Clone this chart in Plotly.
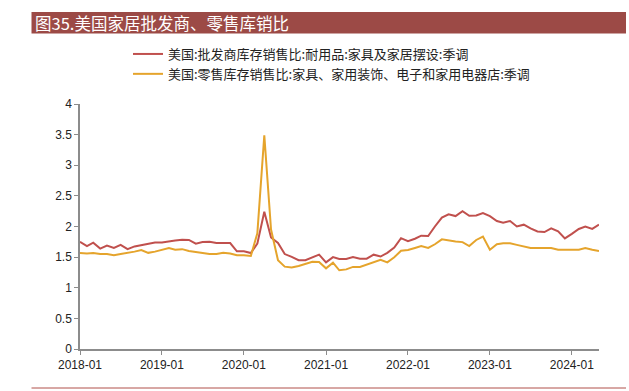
import plotly.graph_objects as go
import pandas as pd

months = pd.date_range("2018-01-01", "2024-05-01", freq="MS").strftime("%Y-%m-%d").tolist()

wholesale = [1.75, 1.68, 1.735, 1.64, 1.69, 1.65, 1.70, 1.63, 1.675, 1.70,
             1.72, 1.74, 1.74, 1.75, 1.77, 1.785, 1.78, 1.72, 1.745, 1.75,
             1.73, 1.73, 1.73, 1.595, 1.595, 1.567, 1.72, 2.24, 1.82, 1.73,
             1.55, 1.505, 1.45, 1.45, 1.50, 1.54, 1.415, 1.50, 1.47, 1.47,
             1.50, 1.475, 1.475, 1.54, 1.51, 1.57, 1.655, 1.81, 1.76, 1.80,
             1.85, 1.845, 2.00, 2.145, 2.20, 2.17, 2.25, 2.175, 2.18, 2.22,
             2.17, 2.09, 2.06, 2.09, 2.00, 2.03, 1.97, 1.92, 1.91, 1.97,
             1.92, 1.805, 1.88, 1.96, 2.00, 1.96, 2.03]

retail = [1.567, 1.56, 1.567, 1.55, 1.55, 1.53, 1.55, 1.567, 1.59, 1.616,
          1.57, 1.59, 1.62, 1.65, 1.62, 1.63, 1.60, 1.585, 1.56, 1.55,
          1.55, 1.57, 1.56, 1.53, 1.53, 1.518, 1.89, 3.49, 1.95, 1.45,
          1.345, 1.33, 1.355, 1.39, 1.425, 1.42, 1.317, 1.41, 1.285, 1.30,
          1.34, 1.34, 1.375, 1.41, 1.458, 1.415, 1.497, 1.605, 1.615, 1.65,
          1.68, 1.65, 1.71, 1.79, 1.77, 1.755, 1.745, 1.68, 1.78, 1.835,
          1.62, 1.71, 1.725, 1.725, 1.70, 1.68, 1.65, 1.65, 1.645, 1.65,
          1.62, 1.615, 1.62, 1.62, 1.65, 1.62, 1.60]

name_wholesale = "美国:批发商库存销售比:耐用品:家具及家居摆设:季调"
name_retail = "美国:零售库存销售比:家具、家用装饰、电子和家用电器店:季调"
title_text = "图35.美国家居批发商、零售库销比"

W, H = 629, 391
L, R, T, B = 80, 30, 104, 42
pw, ph = W - L - R, H - T - B

def px(x):
    return (x - L) / pw

def py(y):
    return (H - B - y) / ph

CJK = "Noto Sans CJK SC"
fig = go.Figure()
fig.add_trace(go.Scatter(x=months, y=wholesale, mode="lines", name=name_wholesale,
                         line=dict(color="#C0504D", width=2)))
fig.add_trace(go.Scatter(x=months, y=retail, mode="lines", name=name_retail,
                         line=dict(color="#E5A42C", width=2)))

fig.update_layout(
    width=W, height=H, autosize=False,
    margin=dict(l=L, r=R, t=T, b=B, autoexpand=False),
    paper_bgcolor="white", plot_bgcolor="white",
    font=dict(family="Liberation Sans, Arial", size=12, color="#222"),
    showlegend=True,
    legend=dict(x=px(128), y=py(39), xanchor="left", yanchor="top",
                font=dict(family=CJK, size=13, color="#222"),
                bgcolor="rgba(0,0,0,0)", tracegroupgap=0, itemwidth=30),
    xaxis=dict(type="date", range=["2018-01-01", "2024-05-01"],
               dtick="M12", tick0="2018-01-01", tickformat="%Y-%m",
               showgrid=False, zeroline=False,
               showline=True, linecolor="#8c8c8c", linewidth=1.5,
               ticks="outside", ticklen=4, tickcolor="#8c8c8c",
               tickfont=dict(size=12, color="#222")),
    yaxis=dict(range=[0, 4], dtick=0.5, tick0=0,
               showgrid=False, zeroline=False,
               showline=True, linecolor="#8c8c8c", linewidth=1.5,
               ticks="outside", ticklen=4, tickcolor="#8c8c8c",
               tickfont=dict(size=12, color="#222")),
    shapes=[
        dict(type="rect", xref="paper", yref="paper",
             x0=px(31.5), x1=px(626), y0=py(33.5), y1=py(12),
             fillcolor="#9C4A46", line=dict(width=0), layer="below"),
        dict(type="line", xref="paper", yref="paper",
             x0=px(31.5), x1=px(626), y0=py(388), y1=py(388),
             line=dict(color="#B0504A", width=1)),
    ],
    annotations=[
        dict(text=title_text, xref="paper", yref="paper", x=px(33), y=py(23),
             xanchor="left", yanchor="middle", showarrow=False,
             font=dict(family=CJK, size=16.5, color="white")),
    ],
)

fig.write_html("out.html", config={"displayModeBar": False},
               post_script="document.body.style.margin='0';document.body.style.padding='0';")
